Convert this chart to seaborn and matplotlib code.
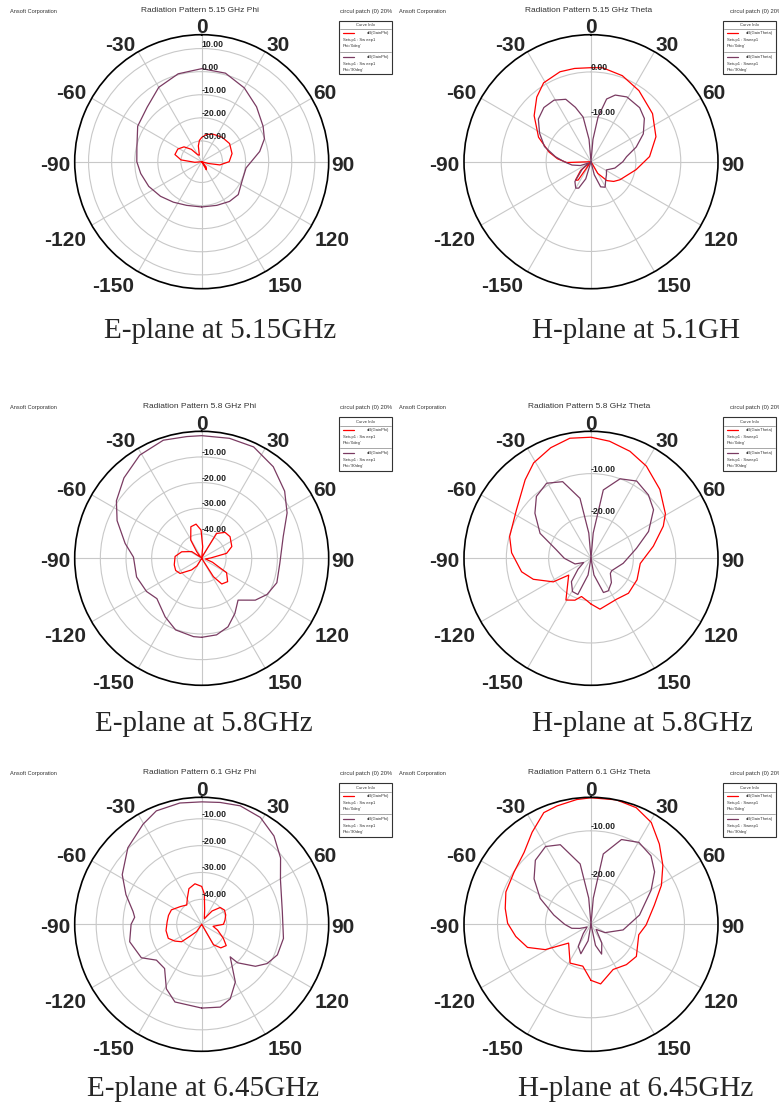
import numpy as np
import matplotlib
matplotlib.use("Agg")
import matplotlib.pyplot as plt
import seaborn as sns
from matplotlib.patches import Rectangle
from matplotlib.lines import Line2D

W, H = 779, 1106

# ---- data: angle (deg) / gain (dB) ----
# E-plane 5.15 GHz  (dB(GainPhi))
e515_ang_p0 = [-180, -140, -110, -95, -85, -75, -62, -50, -40, -30, -20, -12, -6, 0, 10, 23, 40, 57, 75, 90, 100, 105, 115, 140, 150, 158, 180]
e515_db_p0 = [-45, -45, -45, -36, -30, -27, -27.3, -29, -32, -35.5, -36, -32, -29.7, -28.5, -27, -26.1, -25.2, -24.6, -25.4, -27.1, -31, -36, -45, -36, -35, -45, -45]
e515_ang_p90 = [-180, -161, -145, -130, -115, -101, -90, -78, -61, -45, -30, -15, 0, 15, 30, 45, 60, 70, 80, 88, 98, 114, 132, 145, 161, 180]
e515_db_p90 = [-19.4, -19, -17.6, -15.7, -13.7, -12.1, -10.9, -10.3, -7.3, -5.6, -1.8, 0.4, 1.3, 0.7, -2.1, -5.4, -8.3, -10.1, -13.5, -16.9, -19.6, -19.7, -17.7, -18, -19, -19.4]

# H-plane 5.15 GHz  (dB(GainTheta))
h515_ang_p0 = [-180, -155, -145, -140, -130, -120, -100, -92, -85, -77, -65, -51, -40, -31, -19, -10, 0, 7, 20, 34, 52, 69, 85, 100, 122, 131, 140, 150, 160, 180]
h515_db_p0 = [-20, -20, -15, -14.6, -17, -20, -20, -14.6, -12.5, -10.4, -7.1, -3.7, -1.2, 0.5, 1.2, 1.1, 0.95, 1.1, 0.4, -0.9, -2.6, -4.5, -6.9, -9.8, -12.4, -13.3, -14.5, -17, -20, -20]
h515_ang_p90 = [-180, -170, -163, -155, -150, -141, -130, -120, -110, -100, -90, -82, -72, -61, -51, -41, -31, -22, -16, -10, -5, 0, 5, 9, 14, 20, 29, 42, 51, 62, 72, 82, 90, 105, 118, 130, 141, 151, 159, 166, 175, 180]
h515_db_p90 = [-20, -20, -16, -13.5, -13.2, -14.3, -17.5, -19.5, -17.5, -15.7, -14, -12, -9.1, -6.9, -4.9, -4, -4, -5, -7.4, -9.9, -15, -20, -15, -9.9, -5.6, -4.2, -3.5, -3.8, -4.7, -6.8, -9.4, -12, -12.9, -14.5, -16.1, -15.5, -14.8, -13.5, -14, -17, -20, -20]

# E-plane 5.8 GHz
e58_ang_p0 = [-180, -160, -148, -139, -125, -115, -103.5, -86, -72, -56, -45, -37, -31, -19, -9.4, -1.3, 5, 15, 25, 31, 42, 52.6, 68.7, 78.7, 88, 100, 110, 116.6, 120, 132, 142, 147.5, 160, 180]
e58_db_p0 = [-50, -50, -46, -43.5, -39.2, -38.3, -38.5, -39.1, -41.3, -44.8, -49, -46.3, -41.2, -36.5, -36, -38.5, -45, -50, -48, -38.2, -35.9, -35.6, -36.9, -39.6, -46, -48, -45, -42.2, -38.3, -35.9, -36.8, -41, -50, -50]
e58_ang_p90 = [-180, -174, -160, -148, -132, -121, -106, -89, -79, -66, -56, -44, -31, -18, -7, 0, 13, 25, 38, 51, 62, 75, 94, 108, 119, 128, 139, 149, 159, 169, 180]
e58_db_p90 = [-18.7, -18.8, -19.8, -22.6, -26, -24.4, -23.1, -22.9, -19.1, -13.4, -9.4, -5.9, -2.6, -1.1, -1.7, -1.7, -1.5, -1.6, -4.2, -7.9, -11.8, -16.6, -19, -18.7, -20.4, -23, -27.9, -24.4, -20.9, -19.1, -18.7]

# H-plane 5.8 GHz
h58_ang_p0 = [-180, -174, -166, -159, -149, -127, -122, -110, -101, -86, -75, -57, -40, -31, -20, -10, 0, 9, 20, 31, 45, 59, 66, 79, 96, 115, 133, 148, 170, 180]
h58_db_p0 = [-19.2, -20, -20.7, -19.4, -18.5, -23.4, -19.5, -15.5, -13.3, -11.2, -10.1, -9, -5.8, -3.7, -2.2, -1.2, -1.4, -2, -3.1, -4.6, -7, -9.5, -11.3, -15, -18.3, -18, -17.9, -18.6, -17.8, -19.2]
h58_ang_p90 = [-180, -170, -160, -151, -140, -130, -120, -109.5, -90, -76.4, -63.9, -51.2, -41.4, -30.6, -20.3, -10.4, -5, 0, 5, 10.2, 20.1, 30.6, 42.2, 52.2, 65, 77.6, 98.8, 120.8, 128, 140, 152, 160, 170, 180]
h58_db_p90 = [-30, -26, -20.9, -21, -22.8, -26, -28, -26, -23.7, -21.6, -16.6, -13, -10.5, -9.4, -10.7, -15.6, -24, -30, -24, -13.6, -10, -8.8, -9.8, -11.3, -15, -19, -22.3, -24.3, -24.2, -22.5, -21.3, -21.4, -26, -30]

# E-plane 6.45 GHz
e645_ang_p0 = [-180, -160, -145, -137, -131, -122, -112.8, -100, -85.6, -75, -64.5, -50, -37.8, -28, -19.7, -9.5, 0, 5, 12, 25, 38, 47.7, 58, 68.7, 80, 90, 100, 110, 122.9, 131, 141, 150, 160, 180]
e645_db_p0 = [-50, -50, -46, -43.8, -39.4, -37.5, -35.8, -35.8, -36.4, -36.5, -36.8, -39, -40.2, -38, -35.2, -34, -35.2, -38, -44, -47, -43, -40, -39.3, -39.7, -40.5, -41.2, -45, -43, -39.7, -37.2, -38, -40.5, -50, -50]
e645_ang_p90 = [-180, -161, -151.3, -140, -128.4, -119, -103.6, -90, -84, -79.5, -68.6, -58, -44, -30.4, -21.8, -10.2, 0, 8.6, 18, 28.8, 39.3, 49.9, 60.5, 81, 99.8, 112, 121, 128, 137, 138.8, 149.8, 159, 167.4, 180]
e645_db_p90 = [-18.1, -18.7, -21.9, -27.8, -27.8, -23.6, -21.7, -23, -24.2, -23.3, -19, -14.4, -9.7, -6.1, -3.8, -3.4, -3.7, -3.4, -2.9, -3.9, -6.8, -10.9, -15.6, -18.9, -18.4, -18.9, -20.9, -23.9, -29.7, -33.2, -24.4, -19.6, -17.7, -18.1]

# H-plane 6.45 GHz
h645_ang_p0 = [-180, -175, -168.9, -151.7, -130, -119, -110, -99.2, -89.3, -79.5, -69.2, -55.9, -42.9, -32.6, -22.9, -16, -6.5, 0, 11.5, 21.2, 30.6, 40.4, 50.6, 61, 73.2, 90.7, 102.4, 125.3, 138.7, 153.9, 170.8, 180]
h645_db_p0 = [-17.8, -19.3, -20.6, -20.3, -23.4, -18.6, -15.4, -13.6, -12.1, -11.3, -10.5, -10.1, -9, -6.7, -4.2, -3.8, -3.3, -3.1, -3.0, -3.4, -4.8, -7.5, -10.1, -12.7, -15.7, -18, -19.3, -17.9, -18.3, -19, -16.9, -17.8]
h645_ang_p90 = [-180, -170, -161, -150, -140, -125, -110, -101.7, -90, -76, -63, -51.4, -41, -30.3, -21.1, -10.2, -5, 0, 5, 9.9, 19.8, 30.3, 41.2, 50.5, 60.5, 79.2, 99.9, 120.8, 135, 150, 160.4, 168, 175, 180]
h645_db_p90 = [-29.5, -26, -23, -24.2, -27, -28.5, -27, -25.4, -24, -21.5, -17.6, -14.3, -11.8, -10.7, -11.7, -16.7, -24, -29.5, -24, -14.6, -10.7, -9.7, -10.5, -12.3, -15.1, -19.2, -22.7, -26.1, -28, -25, -22.9, -25, -29.5, -29.5]

theta_labels = ["0", "30", "60", "90", "120", "150", "-30", "-60", "-90", "-120", "-150"]
captions = ["E-plane at 5.15GHz", "H-plane at 5.1GH",
            "E-plane at 5.8GHz", "H-plane at 5.8GHz",
            "E-plane at 6.45GHz", "H-plane at 6.45GHz"]
titles = ["Radiation Pattern 5.15 GHz Phi", "Radiation Pattern 5.15 GHz Theta",
          "Radiation Pattern 5.8 GHz Phi", "Radiation Pattern 5.8 GHz Theta",
          "Radiation Pattern 6.1 GHz Phi", "Radiation Pattern 6.1 GHz Theta"]

RED = "#ff0000"
PURPLE = "#7a3b62"
GRID = "#c8c8c8"

sns.set_style("white")
plt.rcParams["font.family"] = ["Liberation Sans", "DejaVu Sans"]

fig = plt.figure(figsize=(W / 100, H / 100), dpi=100)


def fx(x):
    return x / W


def fy(y):
    return 1 - y / H


# panel geometry (pixels) and radial ranges
panels = [
    dict(c=(201.7, 161.7), rmin=-39, rmax=16, rings=[10, 0, -10, -20, -30],
         curves=[(e515_ang_p0, e515_db_p0, RED), (e515_ang_p90, e515_db_p90, PURPLE)]),
    dict(c=(591, 161.7), rmin=-20, rmax=8.3, rings=[0, -10],
         curves=[(h515_ang_p0, h515_db_p0, RED), (h515_ang_p90, h515_db_p90, PURPLE)]),
    dict(c=(201.7, 558.3), rmin=-49.5, rmax=0, rings=[-10, -20, -30, -40],
         curves=[(e58_ang_p90, e58_db_p90, PURPLE), (e58_ang_p0, e58_db_p0, RED)]),
    dict(c=(591, 558.3), rmin=-30, rmax=0, rings=[-10, -20],
         curves=[(h58_ang_p0, h58_db_p0, RED), (h58_ang_p90, h58_db_p90, PURPLE)]),
    dict(c=(201.7, 924.3), rmin=-49.3, rmax=-2, rings=[-10, -20, -30, -40],
         curves=[(e645_ang_p90, e645_db_p90, PURPLE), (e645_ang_p0, e645_db_p0, RED)]),
    dict(c=(591, 924.3), rmin=-29.5, rmax=-3.0, rings=[-10, -20],
         curves=[(h645_ang_p0, h645_db_p0, RED), (h645_ang_p90, h645_db_p90, PURPLE)]),
]
R = 127
row_off = [0, 396.6, 762.5]
cap_pos = [(220, 338), (636, 338), (204, 731), (642, 731), (203, 1096), (636, 1096)]
# where the angle labels sit around the dial (px from centre, y up)
lab_off = [(0, 136), (76.6, 118.4), (123.3, 70), (141.6, -1.6), (130, -76.6), (83.3, -123.3),
           (-81, 118.4), (-130, 70), (-146.7, -1.6), (-136.7, -76.6), (-88.4, -123.3)]

for i, p in enumerate(panels):
    cx, cy = p["c"]
    ax = fig.add_axes([fx(cx - R), fy(cy + R), 2 * R / W, 2 * R / H], projection="polar")
    ax.set_theta_zero_location("N")
    ax.set_theta_direction(-1)

    for ang, db, col in p["curves"]:
        r = np.clip(np.array(db, dtype=float), p["rmin"], p["rmax"])
        sns.lineplot(x=np.deg2rad(ang), y=r, ax=ax, sort=False, estimator=None,
                     color=col, linewidth=0.9)

    ax.set_rlim(p["rmin"], p["rmax"])
    ax.set_yticks(p["rings"])
    ax.set_yticklabels([])
    ax.tick_params(axis="y", length=0)
    ax.set_xticks(np.deg2rad(np.arange(0, 360, 30)))
    ax.set_xticklabels([])
    ax.set_xticks(np.deg2rad(np.arange(0, 360, 5)), minor=True)
    ax.tick_params(axis="x", which="major", direction="in", length=6, width=0.8)
    ax.tick_params(axis="x", which="minor", direction="in", length=3.5, width=0.7)
    ax.grid(True, color=GRID, linewidth=0.8)
    ax.spines["polar"].set_color("black")
    ax.spines["polar"].set_linewidth(1.2)
    ax.set_xlabel("")
    ax.set_ylabel("")

    for lab, (dx, dy) in zip(theta_labels, lab_off):
        fig.text(fx(cx + dx), fy(cy - dy + 7.5), lab, fontsize=15, fontweight="bold",
                 ha="center", va="baseline")

    for ring in p["rings"]:
        ax.text(0, ring, f"{ring:.2f}", ha="left", va="bottom", fontsize=6.3,
                fontweight="bold", color="#222222")

    # header texts of the Ansoft plot
    left = i % 2 == 1
    off = row_off[i // 2]
    x0 = 390 if left else 0
    fig.text(fx(x0 + 10 - (0.7 if left else 0)), fy(11 + off), "Ansoft Corporation",
             fontsize=4.1, ha="left", va="center", color="#333333")
    fig.text(fx(589 if left else 200), fy(10 + off), titles[i],
             fontsize=6, ha="center", va="center", color="#333333")
    if left:
        fig.text(fx(730), fy(11 + off), "circul patch (0) 20%", fontsize=4.2,
                 ha="left", va="center", color="#333333")
    else:
        fig.text(fx(392.7), fy(11 + off), "circul patch (0) 20%", fontsize=4.2,
                 ha="right", va="center", color="#333333")

    # "Curve Info" box
    bx = 723 if left else 339
    by = 20.7 + off
    qty = "dB(GainTheta)" if left else "dB(GainPhi)"
    setup = "Setup1 : Sweep1" if left else "Setup1 : Sw eep1"
    fig.add_artist(Rectangle((fx(bx), fy(by + 53.5)), 53 / W, 53.5 / H,
                             transform=fig.transFigure, fill=False, ec="#333333", lw=0.8))
    fig.text(fx(bx + 26.5), fy(by + 4.5), "Curve Info", fontsize=3, ha="center",
             va="center", color="#333333")
    for yy in (8.5, 31):
        fig.add_artist(Line2D([fx(bx + 1), fx(bx + 52)], [fy(by + yy)] * 2,
                              transform=fig.transFigure, color="#999999", lw=0.6))
    for k, (col, phi) in enumerate([(RED, "Phi='0deg'"), (PURPLE, "Phi='90deg'")]):
        y1 = by + 12.7 + k * 23.3
        fig.add_artist(Line2D([fx(bx + 4), fx(bx + 15)], [fy(y1)] * 2,
                              transform=fig.transFigure, color=col, lw=0.9))
        fig.text(fx(bx + 50), fy(y1), qty, fontsize=3, ha="right", va="center", color="#333333")
        fig.text(fx(bx + 4), fy(y1 + 6.9), setup, fontsize=3, ha="left", va="center", color="#333333")
        fig.text(fx(bx + 4), fy(y1 + 13), phi, fontsize=3, ha="left", va="center", color="#333333")

    cxp, cyp = cap_pos[i]
    fig.text(fx(cxp), fy(cyp), captions[i], fontsize=21, ha="center", va="baseline",
             family="Liberation Serif")

fig.savefig("out.png", dpi=100)
